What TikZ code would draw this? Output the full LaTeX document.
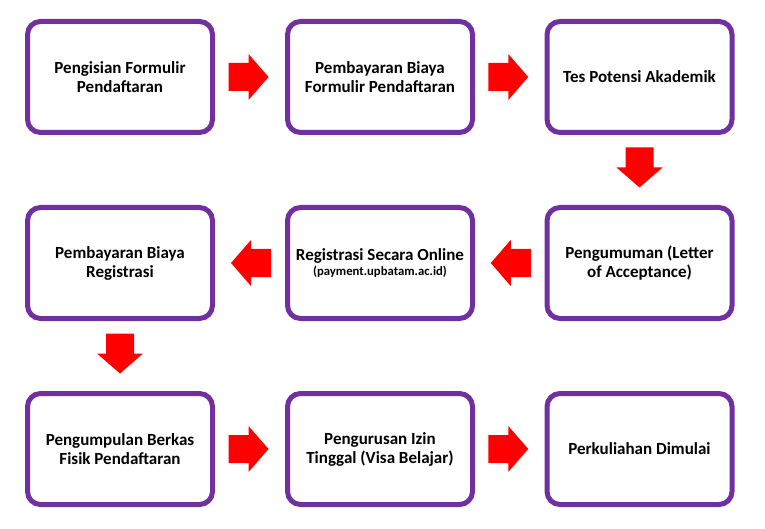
\documentclass[tikz,border=0pt]{standalone}
\usepackage{fontspec}
\setmainfont{Carlito}
\usetikzlibrary{calc}
\definecolor{boxpurple}{HTML}{7030A0}
\definecolor{arrowred}{HTML}{FF0000}
\newcommand{\smalltxt}{\fontsize{12.7}{15}\selectfont}
\tikzset{
  stepbox/.style={draw=boxpurple, line width=5pt, rounded corners=13pt, fill=white,
    minimum width=185pt, minimum height=111pt, align=center, inner sep=2pt,
    font=\bfseries\fontsize{17}{19}\selectfont},
  barrow/.pic={\fill[arrowred] (-20,-14) -- (0,-14) -- (0,-23) -- (20,0) -- (0,23) -- (0,14) -- (-20,14) -- cycle;}
}
\begin{document}
\begin{tikzpicture}[x=1pt,y=-1pt]
\useasboundingbox (0,0) rectangle (765,529);
\node[stepbox] (a1) at (120,77) {Pengisian Formulir\\Pendaftaran};
\node[stepbox] (a2) at (380,77) {Pembayaran Biaya\\Formulir Pendaftaran};
\node[stepbox] (a3) at (639.5,77) {Tes Potensi Akademik};
\node[stepbox] (b3) at (639.5,263) {Pengumuman (Letter\\of Acceptance)};
\node[stepbox] (b2) at (380,263) {Registrasi Secara Online\\[-4pt]{\smalltxt(payment.upbatam.ac.id)}};
\node[stepbox] (b1) at (120,263) {Pembayaran Biaya\\Registrasi};
\node[stepbox] (c1) at (120,449) {Pengumpulan Berkas\\Fisik Pendaftaran};
\node[stepbox] (c2) at (380,449) {Pengurusan Izin\\Tinggal (Visa Belajar)};
\node[stepbox] (c3) at (639.5,449) {Perkuliahan Dimulai};
% connectors (block arrows between boxes)
\pic at ($(a1.east)!0.5!(a2.west)+(-1.5,0)$) {barrow};
\pic at ($(a2.east)!0.5!(a3.west)+(-1.5,0)$) {barrow};
\pic[rotate=-90] at ($(a3.south)!0.5!(b3.north)+(0,-2.5)$) {barrow};
\pic[rotate=180] at ($(b3.west)!0.5!(b2.east)+(1,0)$) {barrow};
\pic[rotate=180] at ($(b2.west)!0.5!(b1.east)+(1,0)$) {barrow};
\pic[rotate=-90] at ($(b1.south)!0.5!(c1.north)+(0,-2.5)$) {barrow};
\pic at ($(c1.east)!0.5!(c2.west)+(-1.5,0)$) {barrow};
\pic at ($(c2.east)!0.5!(c3.west)+(-1.5,0)$) {barrow};
\end{tikzpicture}
\end{document}
